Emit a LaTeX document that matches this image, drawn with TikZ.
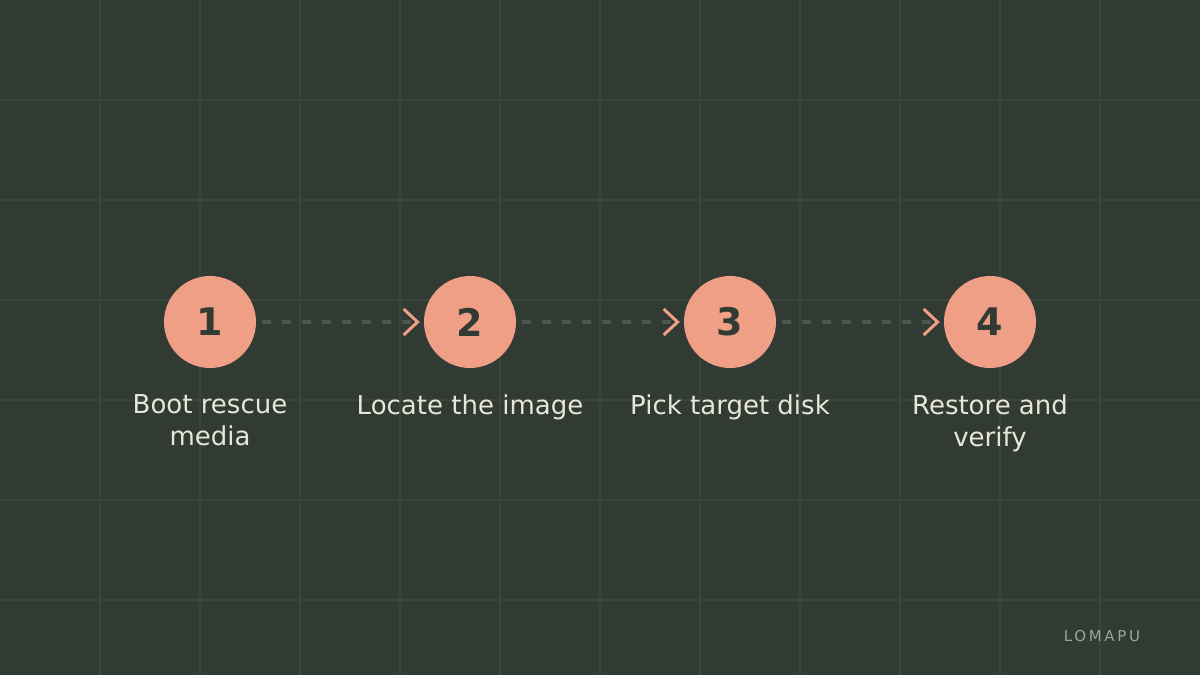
\documentclass[tikz,border=0pt]{standalone}
\usepackage{fontspec}
\setmainfont{DejaVu Sans}
\usetikzlibrary{arrows.meta}
\definecolor{bgc}{HTML}{313A33}
\definecolor{gridc}{HTML}{3A443C}
\definecolor{salmon}{HTML}{EE9F85}
\definecolor{dashc}{HTML}{4B564D}
\definecolor{txtc}{HTML}{E8E6D6}
\definecolor{brandc}{HTML}{9AA69B}
\tikzset{
  stepcirc/.style={circle, fill=salmon, minimum size=92pt, inner sep=0pt, text=bgc, font=\fontsize{38}{40}\selectfont\bfseries},
  steplabel/.style={text=txtc, align=center, font=\fontsize{26}{32}\selectfont, anchor=north},
  link/.style={dashc, line width=4pt, dash pattern=on 9pt off 11pt, shorten >=4pt,
    -{Straight Barb[length=14pt, width=26pt, line width=3pt, color=salmon]}}
}
\begin{document}
\begin{tikzpicture}[x=1pt,y=-1pt]
\fill[bgc] (0,0) rectangle (1200,675);
\useasboundingbox (0,0) rectangle (1200,675);
\foreach \i in {100,200,...,1100} \draw[gridc, line width=1.2pt] (\i,0) -- (\i,675);
\foreach \j in {100,200,...,600} \draw[gridc, line width=1.2pt] (0,\j) -- (1200,\j);
\node[stepcirc] (s1) at (210,322) {1};
\node[stepcirc] (s2) at (470,322) {2};
\node[stepcirc] (s3) at (730,322) {3};
\node[stepcirc] (s4) at (990,322) {4};
\draw[link] ([xshift=6pt]s1.east) -- (s2.west);
\draw[link] ([xshift=6pt]s2.east) -- (s3.west);
\draw[link] ([xshift=6pt]s3.east) -- (s4.west);
\node[steplabel] (l1) at (210,391) {Boot rescue\\media};
\node[steplabel] (l2) at (470,391) {Locate the image};
\node[steplabel] (l3) at (730,391) {Pick target disk};
\node[steplabel] (l4) at (990,391) {Restore and\\verify};
\node[text=brandc, font=\fontsize{15}{18}\selectfont\addfontfeatures{LetterSpace=18}, anchor=base] (brand) at (1102,641) {LOMAPU};
\end{tikzpicture}
\end{document}
